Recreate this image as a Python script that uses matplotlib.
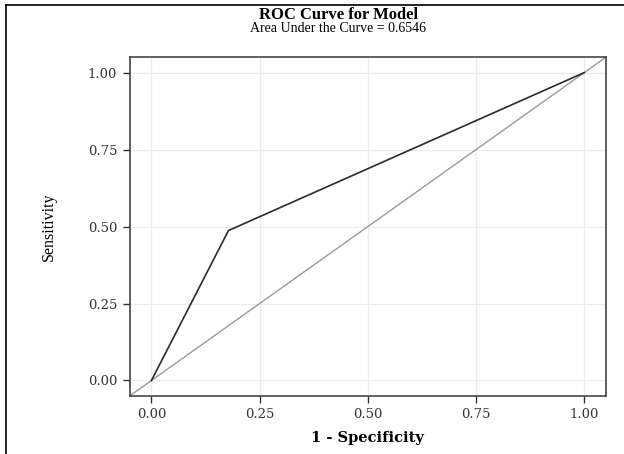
import matplotlib
matplotlib.use("Agg")
import matplotlib.pyplot as plt
from matplotlib.lines import Line2D

# ROC points
fpr = [0.0, 0.178, 1.0]
tpr = [0.0, 0.487, 1.0]
ref = [-0.05, 1.05]
ticks = [0.0, 0.25, 0.5, 0.75, 1.0]
tick_labels = ["0.00", "0.25", "0.50", "0.75", "1.00"]

plt.rcParams['font.family'] = ['Liberation Serif', 'DejaVu Serif']
wide = ['DejaVu Serif']

fig = plt.figure(figsize=(6.24, 4.54), dpi=100)
ax = fig.add_axes([0.208, 0.128, 0.763, 0.746])

ax.plot(ref, ref, color='#9a9a9a', lw=1.0, zorder=2)
ax.plot(fpr, tpr, color='#2b2b2b', lw=1.2, zorder=3)

ax.set_xlim(-0.05, 1.05)
ax.set_ylim(-0.05, 1.05)
ax.set_xticks(ticks)
ax.set_xticklabels(tick_labels, family=wide, fontsize=9.5, color='#333333')
ax.set_yticks(ticks)
ax.set_yticklabels(tick_labels, family=wide, fontsize=9.5, color='#333333')
ax.grid(True, color='#ebebeb', lw=0.9)
ax.set_axisbelow(True)
ax.tick_params(direction='out', length=5, width=1, color='#333333', pad=4)
for s in ax.spines.values():
    s.set_color('#444444')
    s.set_linewidth(1.2)

ax.set_xlabel('1 - Specificity', family=wide, fontsize=10.5, fontweight='bold',
              labelpad=7)
ax.set_ylabel('Sensitivity', fontsize=11.5, labelpad=22)

fig.text(0.542, 0.966, 'ROC Curve for Model', ha='center', va='center',
         fontsize=12, fontweight='bold')
fig.text(0.542, 0.937, 'Area Under the Curve = 0.6546', ha='center', va='center',
         fontsize=10)

# partial frame around the picture
fig.add_artist(Line2D([0.01, 0.01], [0.0, 0.989], transform=fig.transFigure,
                      color='black', lw=1.2))
fig.add_artist(Line2D([0.01, 1.0], [0.989, 0.989], transform=fig.transFigure,
                      color='black', lw=1.2))

fig.savefig('out.png', dpi=100, facecolor='white')
